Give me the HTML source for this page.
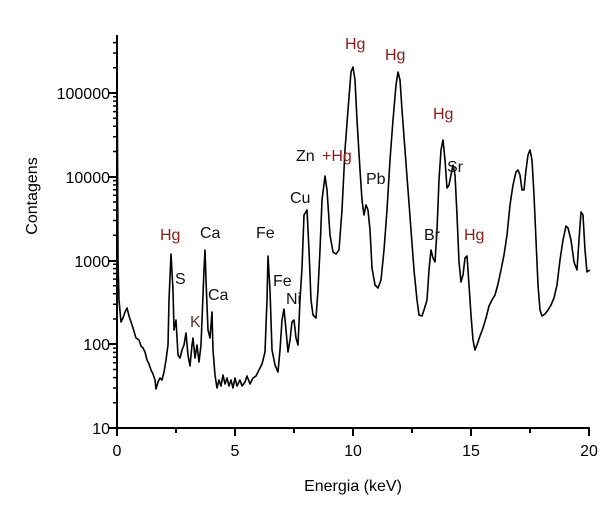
<!DOCTYPE html>
<html><head><meta charset="utf-8"><style>
body{margin:0;background:#fff}
svg text{font-family:"Liberation Sans",Arial,sans-serif}
</style></head><body>
<svg width="614" height="502" viewBox="0 0 614 502" xmlns="http://www.w3.org/2000/svg">
<rect width="614" height="502" fill="#fff"/>
<g stroke="#000" stroke-width="2" fill="none">
<line x1="117" y1="35" x2="117" y2="429"/>
<line x1="116" y1="428" x2="590" y2="428"/>
<path d="M117 428h-8M117 344h-8M117 261h-8M117 177h-8M117 93h-8"/>
<path d="M117 428v8M235 428v8M353 428v8M471 428v8M589 428v8"/>
<path d="M176 428v5M294 428v5M412 428v5M530 428v5"/>
</g>
<g stroke="#000" stroke-width="1.5" fill="none" id="minor"></g>
<g font-size="16" fill="#000" text-anchor="end">
<text x="110" y="434">10</text><text x="110" y="350">100</text><text x="110" y="267">1000</text><text x="110" y="183">10000</text><text x="110" y="99">100000</text>
</g>
<g font-size="16" fill="#000" text-anchor="middle">
<text x="117" y="456">0</text><text x="235" y="456">5</text><text x="353" y="456">10</text><text x="471" y="456">15</text><text x="589" y="456">20</text>
<text x="353" y="491">Energia (keV)</text>
<text transform="translate(37,196) rotate(-90)">Contagens</text>
</g>
<polyline fill="none" stroke="#000" stroke-width="1.6" stroke-linejoin="round" points="
117,40 118,260 119,300 121,322 123,318 125,312 127,308 129,316 131,322 133,328 136,338 139,340 141,346 143,348 145,352 147,360 149,364 151,370 153,374 155,380 156,389 158,382 160,378 162,380 164,372 166,360 168,345 169,300 171,254 173,290 174,330 176,320 178,355 180,358 182,350 184,345 186,333 188,355 190,366 192,345 193,338 195,358 197,345 199,362 201,345 202,320 204,270 205,250 206,280 208,330 210,338 212,312 213,350 215,375 217,388 219,380 221,386 223,375 225,384 227,378 229,386 231,380 233,388 235,378 237,386 240,380 242,386 245,382 247,376 250,384 253,378 256,376 259,370 262,364 265,352 267,300 268,256 270,290 272,350 275,365 278,372 280,350 282,320 284,309 286,330 288,352 290,340 292,322 294,320 296,338 298,345 300,300 302,268 304,215 307,210 309,250 311,300 313,315 316,318 318,290 320,250 322,200 325,176 327,190 330,235 333,252 336,254 339,250 342,210 345,150 348,110 351,72 353,67 355,80 357,120 360,170 362,200 364,215 366,205 368,210 370,230 372,268 375,285 378,288 381,280 384,250 387,210 390,160 393,120 396,85 398,72 400,80 402,110 405,150 408,190 411,230 414,270 417,300 419,315 422,316 424,310 427,300 429,270 431,250 433,258 435,262 437,230 439,180 441,150 443,140 445,160 447,188 449,185 451,175 453,165 455,175 457,215 459,262 461,282 463,275 465,258 467,256 469,285 471,315 473,340 475,350 477,345 480,336 483,328 486,318 489,306 492,300 495,295 498,284 501,270 504,255 507,235 510,205 513,185 516,172 518,170 520,175 522,190 524,190 526,170 528,155 530,150 532,160 534,195 536,240 538,285 540,310 542,316 545,314 548,310 551,305 554,298 557,285 560,260 563,240 566,226 568,228 571,240 574,262 577,270 579,240 581,212 583,215 585,250 587,272 590,270"/>
<g font-size="16">
<g fill="#8b1a1a">
<text x="345" y="49">Hg</text><text x="385" y="60">Hg</text><text x="433" y="119">Hg</text><text x="160" y="240">Hg</text><text x="464" y="240">Hg</text><text x="322" y="161">+Hg</text>
</g>
<g fill="#111">
<text x="296" y="161">Zn</text><text x="366" y="184">Pb</text><text x="290" y="203">Cu</text><text x="447" y="172">Sr</text><text x="424" y="240">Br</text>
<text x="200" y="238">Ca</text><text x="256" y="238">Fe</text><text x="175" y="284">S</text><text x="208" y="300">Ca</text><text x="273" y="286">Fe</text><text x="286" y="304">Ni</text>
</g>
<text x="190" y="327" fill="#5a3a2a">K</text>
</g>
<script>
var g=document.getElementById('minor'),d='';
for(var dec=0;dec<5;dec++){for(var k=2;k<10;k++){var y=428-83.75*(dec+Math.log10(k));if(y<35)continue;d+='M117 '+y.toFixed(1)+'h-4';}}
var p=document.createElementNS('http://www.w3.org/2000/svg','path');p.setAttribute('d',d);g.appendChild(p);
</script>
</svg>
</body></html>
